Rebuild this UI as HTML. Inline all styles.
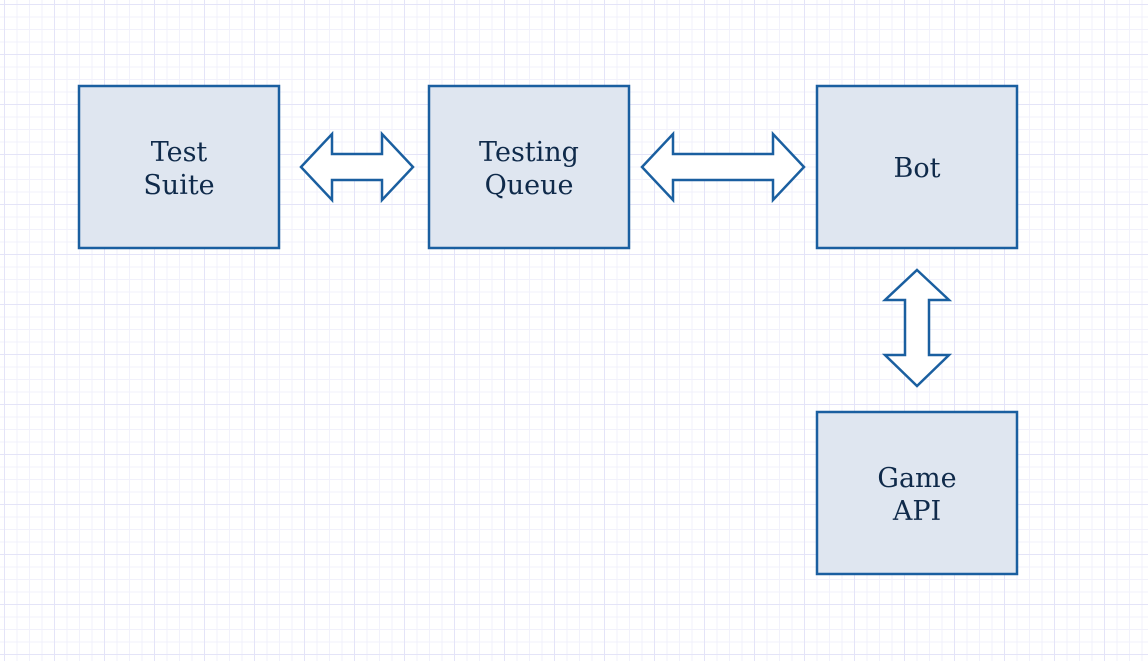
<!DOCTYPE html>
<html><head><style>
html,body{margin:0;padding:0;}
body{width:1148px;height:661px;overflow:hidden;background:#fff;
background-image:
linear-gradient(#e4e4f8 1px,transparent 1px),
linear-gradient(90deg,#e4e4f8 1px,transparent 1px),
linear-gradient(#f1f1fb 1px,transparent 1px),
linear-gradient(90deg,#f1f1fb 1px,transparent 1px);
background-size:50px 50px,50px 50px,12.5px 12.5px,12.5px 12.5px;
background-position:4px 4px,4px 4px,4px 4px,4px 4px;}
</style></head><body>
<svg width="1148" height="661" style="position:absolute;left:0;top:0" font-family="DejaVu Serif, Liberation Serif, serif" font-size="27" fill="#0f2a4a">
<g fill="#dfe6f0" stroke="#1a5fa0" stroke-width="2.5">
<rect x="79" y="86" width="200" height="162"/>
<rect x="429" y="86" width="200" height="162"/>
<rect x="817" y="86" width="200" height="162"/>
<rect x="817" y="412" width="200" height="162"/>
</g>
<g fill="#fff" stroke="#1a5fa0" stroke-width="2.5" stroke-linejoin="miter">
<polygon points="301,167 332,134 332,154 382,154 382,134 413,167 382,200 382,180 332,180 332,200"/>
<polygon points="642,167 673,134 673,154 773,154 773,134 804,167 773,200 773,180 673,180 673,200"/>
<polygon points="917,270 949,300 929,300 929,355 949,355 917,386 885,355 905,355 905,300 885,300"/>
</g>
<g text-anchor="middle" fill="#0f2a4a">
<text x="179" y="161">Test</text><text x="179" y="194">Suite</text>
<text x="529" y="161">Testing</text><text x="529" y="194">Queue</text>
<text x="917" y="177">Bot</text>
<text x="917" y="487">Game</text><text x="917" y="520">API</text>
</g>
</svg>
</body></html>
